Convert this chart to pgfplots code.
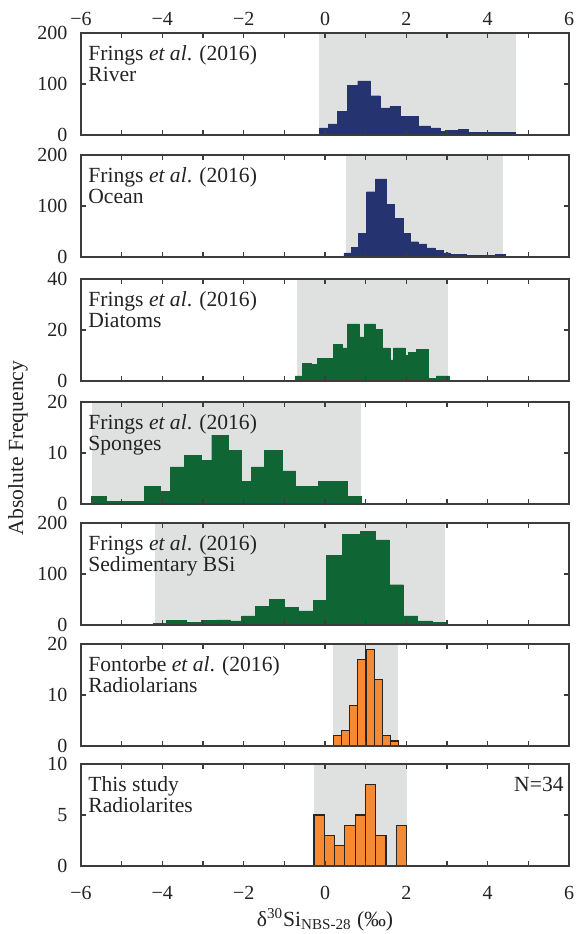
\documentclass[border=0pt]{standalone}
\usepackage{fontspec}
\setmainfont{Liberation Serif}
\usepackage{pgfplots}
\pgfplotsset{compat=1.18}

\definecolor{navy}{RGB}{37,51,112}
\definecolor{dgreen}{RGB}{15,102,52}
\definecolor{orng}{RGB}{245,138,50}
\definecolor{shade}{RGB}{223,225,225}
\definecolor{frame}{RGB}{60,60,60}
\definecolor{txt}{RGB}{35,35,35}
\newcommand\annfont{\fontsize{10.8}{10.5}\selectfont}

\tikzset{lab/.style={anchor=base west, inner sep=0pt, font=\annfont, text=txt}}

\pgfplotsset{
  panel/.style={
    width=244pt, height=51pt, scale only axis,
    anchor=north west,
    xmin=-6, xmax=6, ymin=0,
    xtick={-6,-4,...,6}, minor xtick={-5,-3,...,5},
    xticklabels={},
    tick align=inside,
    major tick length=2.5pt, minor tick length=2.5pt,
    axis on top,
    axis line style={frame, line width=0.9pt},
    every tick/.style={frame, line width=0.7pt},
    every minor tick/.style={frame, line width=0.7pt},
    tick label style={font=\fontsize{10}{12}\selectfont, text=txt},
    /pgf/number format/assume math mode=true,
    yticklabel shift=3.3pt,
  },
}

\begin{document}
\begin{tikzpicture}
\useasboundingbox (-40.5pt,16.5pt) rectangle (247pt,-450.5pt);

% ---- Panel 1: River
\begin{axis}[panel, name=p1, at={(0,0)}, ymax=200, ytick={0,100,200},
  xticklabels={−6,−4,−2,0,2,4,6}, xticklabel pos=right, xtick pos=both]
\addplot[draw=none, fill=shade, forget plot] coordinates {(-0.139,200) (4.689,200)} \closedcycle;
\addplot[ybar interval, fill=navy, draw=navy, line width=0.2pt] table {
x y
-0.139 14
0.082 22
0.312 46
0.550 97
0.804 106
1.123 77
1.353 53
1.598 56
1.844 37
2.066 37
2.295 18
2.582 14
2.828 6.5
2.951 8.5
3.279 10.5
3.525 5
4.057 5
4.689 5
};
\node[lab, xshift=3.5pt, yshift=-13.5pt] at (rel axis cs:0,1) {Frings \textit{et al}. (2016)};
\node[lab, xshift=3.5pt, yshift=-24pt] at (rel axis cs:0,1) {River};
\end{axis}

% ---- Panel 2: Ocean
\begin{axis}[panel, name=p2, at={(0,-61pt)}, ymax=200, ytick={0,100,200}]
\addplot[draw=none, fill=shade, forget plot] coordinates {(0.51,200) (4.386,200)} \closedcycle;
\addplot[ybar interval, fill=navy, draw=navy, line width=0.2pt] table {
x y
0.467 8
0.656 19
0.820 46
1.025 128
1.238 153
1.517 103
1.697 76
1.926 46
2.090 30
2.295 26
2.500 18
2.705 13
2.910 8
3.074 5
3.468 3
3.976 3
4.181 5
4.426 5
};
\node[lab, xshift=3.5pt, yshift=-13.5pt] at (rel axis cs:0,1) {Frings \textit{et al}. (2016)};
\node[lab, xshift=3.5pt, yshift=-24pt] at (rel axis cs:0,1) {Ocean};
\end{axis}

% ---- Panel 3: Diatoms
\begin{axis}[panel, name=p3, at={(0,-123pt)}, ymax=40, ytick={0,20,40}]
\addplot[draw=none, fill=shade, forget plot] coordinates {(-0.70,40) (3.017,40)} \closedcycle;
\addplot[ybar interval, fill=dgreen, draw=dgreen, line width=0.2pt] table {
x y
-0.737 2
-0.549 7
-0.328 6.4
-0.180 9
0.205 14.4
0.435 13
0.550 22.4
0.836 17.3
0.959 22.4
1.230 20.3
1.410 13
1.599 8.3
1.681 13
1.968 10
2.050 11.3
2.238 12.4
2.541 1
2.730 2
3.058 2
};
\node[lab, xshift=3.5pt, yshift=-13.5pt] at (rel axis cs:0,1) {Frings \textit{et al}. (2016)};
\node[lab, xshift=3.5pt, yshift=-24pt] at (rel axis cs:0,1) {Diatoms};
\end{axis}

% ---- Panel 4: Sponges
\begin{axis}[panel, name=p4, at={(0,-184.5pt)}, ymax=20, ytick={0,10,20}]
\addplot[draw=none, fill=shade, forget plot] coordinates {(-5.72,20) (0.886,20)} \closedcycle;
\addplot[ybar interval, fill=dgreen, draw=dgreen, line width=0.2pt] table {
x y
-5.754 1.5
-5.369 0.5
-4.442 3.5
-4.041 2.5
-3.795 7.3
-3.459 9.5
-3.033 8.5
-2.786 13.5
-2.377 10.5
-2.049 4.5
-1.803 7.3
-1.491 10.5
-1.049 6.5
-0.721 3.4
-0.164 4.5
0.558 1.5
0.886 1.5
};
\node[lab, xshift=3.5pt, yshift=-13.5pt] at (rel axis cs:0,1) {Frings \textit{et al}. (2016)};
\node[lab, xshift=3.5pt, yshift=-24pt] at (rel axis cs:0,1) {Sponges};
\end{axis}

% ---- Panel 5: Sedimentary BSi
\begin{axis}[panel, name=p5, at={(0,-245pt)}, ymax=200, ytick={0,100,200}]
\addplot[draw=none, fill=shade, forget plot] coordinates {(-4.18,200) (2.951,200)} \closedcycle;
\addplot[ybar interval, fill=dgreen, draw=dgreen, line width=0.2pt] table {
x y
-4.221 3
-3.893 8.5
-3.401 5
-3.033 8.5
-2.664 10
-2.336 8
-2.049 18
-1.721 37
-1.377 50
-1.008 34
-0.655 27.5
-0.287 49
0.041 136
0.435 178
0.861 184
1.230 167
1.582 79
1.927 18
2.279 8
2.648 5
2.951 5
};
\node[lab, xshift=3.5pt, yshift=-13.5pt] at (rel axis cs:0,1) {Frings \textit{et al}. (2016)};
\node[lab, xshift=3.5pt, yshift=-24pt] at (rel axis cs:0,1) {Sedimentary BSi};
\end{axis}

% ---- Panel 6: Radiolarians
\begin{axis}[panel, name=p6, at={(0,-305.5pt)}, ymax=20, ytick={0,10,20}]
\addplot[draw=none, fill=shade, forget plot] coordinates {(0.205,20) (1.787,20)} \closedcycle;
\addplot[ybar interval, fill=orng, draw=black!85, line width=0.6pt] table {
x y
0.205 2
0.410 3
0.599 8
0.803 17
1.008 19
1.213 13
1.410 2
1.615 1
1.803 1
};
\node[lab, xshift=3.5pt, yshift=-13.5pt] at (rel axis cs:0,1) {Fontorbe \textit{et al}. (2016)};
\node[lab, xshift=3.5pt, yshift=-24pt] at (rel axis cs:0,1) {Radiolarians};
\end{axis}

% ---- Panel 7: This study
\begin{axis}[panel, name=p7, at={(0,-365.5pt)}, ymax=10, ytick={0,5,10},
  xticklabels={−6,−4,−2,0,2,4,6}, xticklabel shift=6.5pt]
\addplot[draw=none, fill=shade, forget plot] coordinates {(-0.27,10) (2.009,10)} \closedcycle;
\addplot[ybar interval, fill=orng, draw=black!85, line width=0.6pt] table {
x y
-0.270 5
-0.017 3
0.236 2
0.489 4
0.742 5
0.995 8
1.248 3
1.501 0
1.754 4
2.007 4
};
\node[lab, xshift=3.5pt, yshift=-13.5pt] at (rel axis cs:0,1) {This study};
\node[lab, xshift=3.5pt, yshift=-24pt] at (rel axis cs:0,1) {Radiolarites};
\node[anchor=base east, inner sep=0pt, font=\annfont, text=txt, xshift=-2.5pt, yshift=-13.5pt] at (rel axis cs:1,1) {N=34};
\end{axis}

\node[anchor=base, inner sep=0pt, font=\annfont, text=txt, yshift=-30pt] at (p7.south) {δ\textsuperscript{30}Si\textsubscript{NBS-28} (‰)};
\node[xshift=-31.5pt, yshift=2.5pt, rotate=90, anchor=center, inner sep=0pt, font=\annfont, text=txt] at (p4.west) {Absolute Frequency};
\end{tikzpicture}
\end{document}
